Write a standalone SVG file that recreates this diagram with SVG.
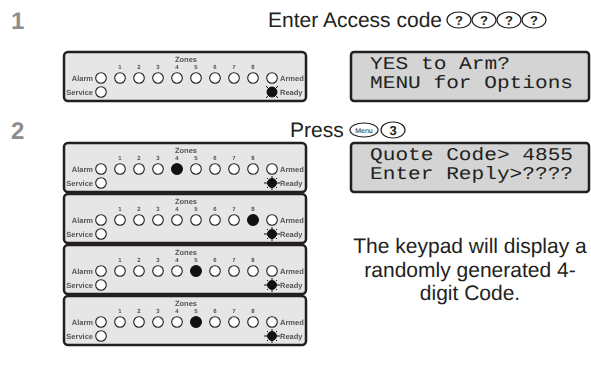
<svg xmlns="http://www.w3.org/2000/svg" xmlns:xlink="http://www.w3.org/1999/xlink" width="591" height="365" viewBox="0 0 591 365">
<style>
text{text-rendering:geometricPrecision}
.num{font-family:"Liberation Sans",Arial,sans-serif;font-weight:bold;font-size:24px;fill:#8c8c8c}
.hdr{font-family:"Liberation Sans",Arial,sans-serif;font-size:21px;fill:#231f20}
.key{fill:#fff;stroke:#231f20;stroke-width:1.2}
.keyt{font-family:"Liberation Sans",Arial,sans-serif;font-weight:bold;font-size:13px;fill:#231f20;text-anchor:middle}
.menut{font-family:"Liberation Sans",Arial,sans-serif;font-size:7px;fill:#231f20;text-anchor:middle}
.pbox{fill:#e6e6e6;stroke:#231f20;stroke-width:2.5}
.lbl{font-family:"Liberation Sans",Arial,sans-serif;font-weight:bold;font-size:7.5px;fill:#555}
.dig{font-family:"Liberation Sans",Arial,sans-serif;font-weight:bold;font-size:6px;fill:#555;text-anchor:middle}
.led{fill:#fff;stroke:#231f20;stroke-width:1.1}
.on{fill:#111;stroke:#111;stroke-width:1}
.ray{stroke:#111;stroke-width:1}
.lcd{fill:#d4d4d4;stroke:#231f20;stroke-width:2.5}
.lcdt{font-family:"Liberation Mono","DejaVu Sans Mono",monospace;font-size:18px;fill:#231f20}
.body{font-family:"Liberation Sans",Arial,sans-serif;font-size:21px;fill:#231f20;text-anchor:middle}
</style>
<defs>
<filter id="gray" x="0" y="0" width="1" height="1"><feOffset dx="0" dy="0"/></filter>
<g id="kpbase">
<rect class="pbox" x="0" y="0" width="242" height="49" rx="4"/>
<g filter="url(#gray)">
<rect x="0" y="0" width="242" height="49" fill="none"/>
<text class="lbl" x="122" y="10" text-anchor="middle">Zones</text>
<text class="dig" x="56" y="17">1</text><text class="dig" x="75" y="17">2</text><text class="dig" x="94" y="17">3</text><text class="dig" x="113" y="17">4</text>
<text class="dig" x="132" y="17">5</text><text class="dig" x="151" y="17">6</text><text class="dig" x="170" y="17">7</text><text class="dig" x="189" y="17">8</text>
<text class="lbl" x="29" y="28.7" text-anchor="end">Alarm</text>
<text class="lbl" x="29" y="42.7" text-anchor="end">Service</text>
<text class="lbl" x="216" y="28.7">Armed</text>
<text class="lbl" x="216" y="42.7">Ready</text>
</g>
<circle class="led" cx="37" cy="26" r="5.3"/>
<circle class="led" cx="56" cy="26" r="5.3"/><circle class="led" cx="75" cy="26" r="5.3"/><circle class="led" cx="94" cy="26" r="5.3"/><circle class="led" cx="113" cy="26" r="5.3"/>
<circle class="led" cx="132" cy="26" r="5.3"/><circle class="led" cx="151" cy="26" r="5.3"/><circle class="led" cx="170" cy="26" r="5.3"/><circle class="led" cx="189" cy="26" r="5.3"/>
<circle class="led" cx="208" cy="26" r="5.3"/>
<circle class="led" cx="37" cy="40" r="5.3"/>
</g>
<g id="readyA">
<circle class="on" cx="208" cy="40" r="5"/>
<path class="ray" d="M202,34 l2.5,2.5 M214,34 l-2.5,2.5 M202,46 l2.5,-2.5 M214,46 l-2.5,-2.5"/>
</g>
<g id="readyB">
<circle class="on" cx="208" cy="40" r="4.5"/>
<path class="ray" d="M200,40 h3 M213,40 h3 M208,33 v2 M208,45 v2 M203,35 l1,1 M213,35 l-1,1 M203,45 l1,-1 M213,45 l-1,-1"/>
</g>
</defs>

<g id="step1">
<text class="num" x="11" y="29">1</text>
<text class="hdr" x="442" y="27" text-anchor="end">Enter Access code</text>
<g id="keys1">
<ellipse class="key" cx="459" cy="20" rx="12" ry="8"/><text class="keyt" x="459" y="24.5">?</text>
<ellipse class="key" cx="484" cy="20" rx="12" ry="8"/><text class="keyt" x="484" y="24.5">?</text>
<ellipse class="key" cx="509" cy="20" rx="12" ry="8"/><text class="keyt" x="509" y="24.5">?</text>
<ellipse class="key" cx="534" cy="20" rx="12" ry="8"/><text class="keyt" x="534" y="24.5">?</text>
</g>
</g>

<g id="panel1" transform="translate(64,52)"><use xlink:href="#kpbase"/><use xlink:href="#readyA"/></g>

<g id="lcd1">
<rect class="lcd" x="351" y="52" width="238" height="49" rx="3"/>
<text class="lcdt" x="370" y="69" textLength="140" lengthAdjust="spacingAndGlyphs">YES to Arm?</text>
<text class="lcdt" x="370" y="88" textLength="203" lengthAdjust="spacingAndGlyphs">MENU for Options</text>
</g>

<g id="step2">
<text class="num" x="11" y="139">2</text>
<text class="hdr" x="290" y="137">Press</text>
<g id="keys2">
<ellipse class="key" cx="364" cy="130" rx="14" ry="7"/><text class="menut" x="364" y="132.5">Menu</text>
<ellipse class="key" cx="393" cy="130" rx="12" ry="8"/><text class="keyt" x="393" y="134.5">3</text>
</g>
</g>

<g id="panel2" transform="translate(64,143)"><use xlink:href="#kpbase"/><use xlink:href="#readyB"/><circle class="on" cx="113" cy="26" r="5.3"/></g>

<g id="lcd2">
<rect class="lcd" x="351" y="143" width="238" height="49" rx="3"/>
<text class="lcdt" x="370" y="160" textLength="203" lengthAdjust="spacingAndGlyphs">Quote Code&gt; 4855</text>
<text class="lcdt" x="370" y="179" textLength="203" lengthAdjust="spacingAndGlyphs">Enter Reply&gt;????</text>
</g>

<g id="panel3" transform="translate(64,194)"><use xlink:href="#kpbase"/><use xlink:href="#readyB"/><circle class="on" cx="189" cy="26" r="5.3"/></g>
<g id="panel4" transform="translate(64,245)"><use xlink:href="#kpbase"/><use xlink:href="#readyB"/><circle class="on" cx="132" cy="26" r="5.3"/></g>
<g id="panel5" transform="translate(64,296)"><use xlink:href="#kpbase"/><use xlink:href="#readyB"/><circle class="on" cx="132" cy="26" r="5.3"/></g>

<g id="note">
<text class="body" x="470" y="253">The keypad will display a</text>
<text class="body" x="470" y="277">randomly generated 4-</text>
<text class="body" x="470" y="300">digit Code.</text>
</g>
<g id="connectors"/>
</svg>
